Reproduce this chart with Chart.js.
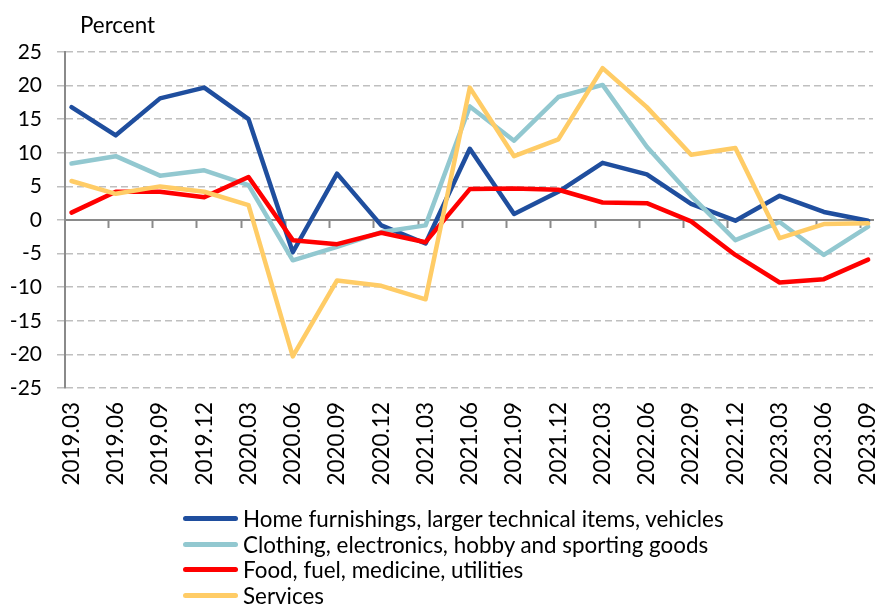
<!DOCTYPE html>
<html>
<head>
<meta charset="utf-8">
<script src="https://cdn.jsdelivr.net/npm/chart.js@4/dist/chart.umd.min.js"></script>
<style>
  html, body { margin: 0; padding: 0; background: #fff; }
  #wrap { position: relative; width: 878px; height: 604px; overflow: hidden; }
  #chart { position: absolute; left: 0; top: 0; }
  #unit { position: absolute; left: 80px; top: 12.5px; font: 22.4px Lato, sans-serif; line-height: 24px; color: #000; }
  #legend { position: absolute; left: 183px; top: 506px; font: 22.4px Lato, sans-serif; color: #000; }
  #legend .row { height: 25.6px; line-height: 25.6px; white-space: nowrap; display: flex; align-items: center; }
  #legend .swatch { width: 55px; height: 5px; border-radius: 2.5px; margin-right: 5px; flex: none; }
</style>
</head>
<body>
<div id="wrap">
  <canvas id="chart" width="878" height="604"></canvas>
  <div id="unit">Percent</div>
  <div id="legend"></div>
</div>
<script>
// Quarterly change by spending category, percent
const categories = ['2019.03', '2019.06', '2019.09', '2019.12', '2020.03', '2020.06', '2020.09', '2020.12',
  '2021.03', '2021.06', '2021.09', '2021.12', '2022.03', '2022.06', '2022.09', '2022.12',
  '2023.03', '2023.06', '2023.09'];

const homeFurnishings = [16.8, 12.6, 18.1, 19.7, 15.0, -4.8, 6.9, -0.8, -3.5, 10.6, 0.9, 4.2, 8.5, 6.8, 2.4, -0.1, 3.6, 1.2, -0.1];
const clothingElectronics = [8.4, 9.5, 6.6, 7.4, 5.2, -6.0, -4.0, -1.8, -0.8, 16.9, 11.8, 18.3, 20.1, 10.9, 3.6, -3.0, -0.3, -5.2, -1.0];
const foodFuelUtilities = [1.1, 4.2, 4.2, 3.4, 6.4, -3.0, -3.6, -1.9, -3.3, 4.6, 4.7, 4.5, 2.6, 2.5, -0.2, -5.2, -9.3, -8.8, -5.9];
const services = [5.8, 3.9, 5.0, 4.2, 2.2, -20.3, -9.0, -9.8, -11.8, 19.7, 9.5, 12.0, 22.6, 16.8, 9.7, 10.7, -2.7, -0.6, -0.5];

const seriesNames = [
  'Home furnishings, larger technical items, vehicles',
  'Clothing, electronics, hobby and sporting goods',
  'Food, fuel, medicine, utilities',
  'Services'
];
const seriesColors = ['#1F4E9E', '#92C8D0', '#FF0000', '#FFCC66'];

const yTicks = [-25, -20, -15, -10, -5, 0, 5, 10, 15, 20, 25];

const FONT = 'Lato, sans-serif';
const AXIS_GREY = '#8A8A8A';
const GRID_GREY = '#BFBFBF';

// x range leaves a small margin before the first and after the last quarter
const X_MIN = -0.147;
const X_MAX = 18.11;

function toPoints(values) {
  return values.map((v, i) => ({ x: i, y: v }));
}

const seriesValues = [homeFurnishings, clothingElectronics, foodFuelUtilities, services];

const datasets = seriesValues.map((vals, k) => ({
  label: seriesNames[k],
  data: toPoints(vals),
  borderColor: seriesColors[k],
  backgroundColor: seriesColors[k],
  borderWidth: 4.5,
  pointRadius: 0,
  pointHoverRadius: 0,
  tension: 0,
  borderJoinStyle: 'round',
  borderCapStyle: 'round',
  fill: false,
  order: seriesValues.length - k   // later series are painted on top
}));

const chart = new Chart(document.getElementById('chart'), {
  type: 'line',
  data: { datasets },
  options: {
    responsive: false,
    animation: false,
    devicePixelRatio: 1,
    layout: { padding: { left: 0, right: 5, top: 52, bottom: 116 } },
    plugins: {
      legend: { display: false },
      tooltip: { enabled: false }
    },
    scales: {
      x: {
        type: 'linear',
        position: 'bottom',
        min: X_MIN,
        max: X_MAX,
        afterBuildTicks: (scale) => { scale.ticks = categories.map((c, i) => ({ value: i })); },
        afterFit: (scale) => {
          scale.height = 100;
          scale.paddingLeft = 0;
          scale.paddingRight = 0;
        },
        grid: { display: false, drawTicks: false },
        border: { display: false },
        ticks: {
          autoSkip: false,
          minRotation: 90,
          maxRotation: 90,
          padding: 14,
          color: '#000',
          font: { family: FONT, size: 22.5 },
          callback: (value) => categories[Math.round(value)]
        }
      },
      // zero line with category tick marks
      x2: {
        type: 'linear',
        position: { y: 0 },
        min: X_MIN,
        max: X_MAX,
        afterBuildTicks: (scale) => { scale.ticks = categories.slice(1).map((c, i) => ({ value: i + 1 - 0.17 })); },
        afterFit: (scale) => {
          scale.paddingLeft = 0;
          scale.paddingRight = 0;
        },
        grid: { drawOnChartArea: false, drawTicks: true, tickLength: 7, tickColor: AXIS_GREY, tickWidth: 2 },
        border: { display: true, color: AXIS_GREY, width: 2 },
        ticks: { display: false }
      },
      y: {
        type: 'linear',
        min: -25,
        max: 25,
        afterBuildTicks: (scale) => { scale.ticks = yTicks.map(v => ({ value: v })); },
        afterFit: (scale) => { scale.width = 65; },
        grid: { color: GRID_GREY, lineWidth: 1.5, drawTicks: true, tickLength: 8, tickColor: GRID_GREY, tickWidth: 1.5 },
        border: { display: true, color: AXIS_GREY, width: 2, dash: [7, 4] },
        ticks: {
          padding: 15,
          color: '#000',
          font: { family: FONT, size: 21 }
        }
      }
    }
  }
});

// legend rows in series order, built from the chart's datasets
const legendEl = document.getElementById('legend');
chart.data.datasets.forEach((ds) => {
  const row = document.createElement('div');
  row.className = 'row';
  const sw = document.createElement('span');
  sw.className = 'swatch';
  sw.style.background = ds.borderColor;
  const txt = document.createElement('span');
  txt.textContent = ds.label;
  row.appendChild(sw);
  row.appendChild(txt);
  legendEl.appendChild(row);
});
</script>
</body>
</html>
